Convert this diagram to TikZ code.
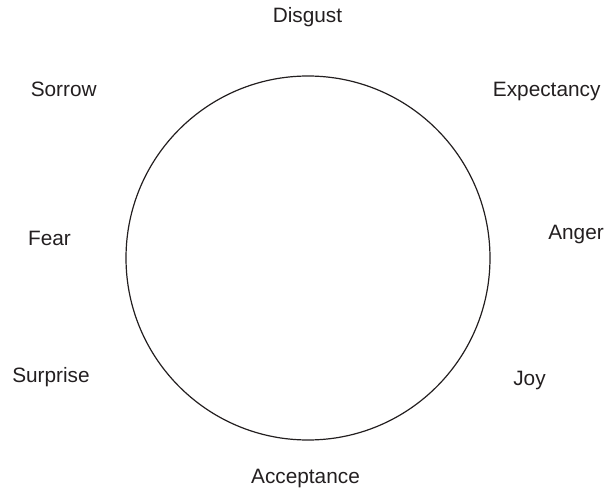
\documentclass[tikz,border=0pt]{standalone}
\usepackage{fontspec}
\setmainfont{Liberation Sans}
\usetikzlibrary{
    positioning
}
\definecolor{ink}{HTML}{231F20}
\tikzset{
    emotion/.style={
        anchor=base,
        inner sep=0pt,
        text=ink,
        font=\fontsize{20.8}{25}\selectfont
    },
    wheel/.style={
        circle,
        draw=ink,
        line width=1.2pt,
        minimum size=364pt,
        inner sep=0pt
    }
}

\begin{document}
\begin{tikzpicture}[
    x=1pt,
    y=-1pt
]

    \useasboundingbox (0,0) rectangle (608,495);

    % Circulo
    \node[wheel] (wheel) at (308,258) {};

    % Emociones
    \node[emotion] (disgust)    at (307.5,22.7) {Disgust};
    \node[emotion] (expectancy) at (546.7,96)   {Expectancy};
    \node[emotion] (sorrow)     at (63.7,96)    {Sorrow};
    \node[emotion] (anger)      at (576,239)    {Anger};
    \node[emotion] (fear)       at (49.5,245)   {Fear};
    \node[emotion] (joy)        at (529.5,385)  {Joy};
    \node[emotion] (surprise)   at (51,382)     {Surprise};
    \node[emotion] (acceptance) at (305.5,483.3) {Acceptance};

\end{tikzpicture}
\end{document}
